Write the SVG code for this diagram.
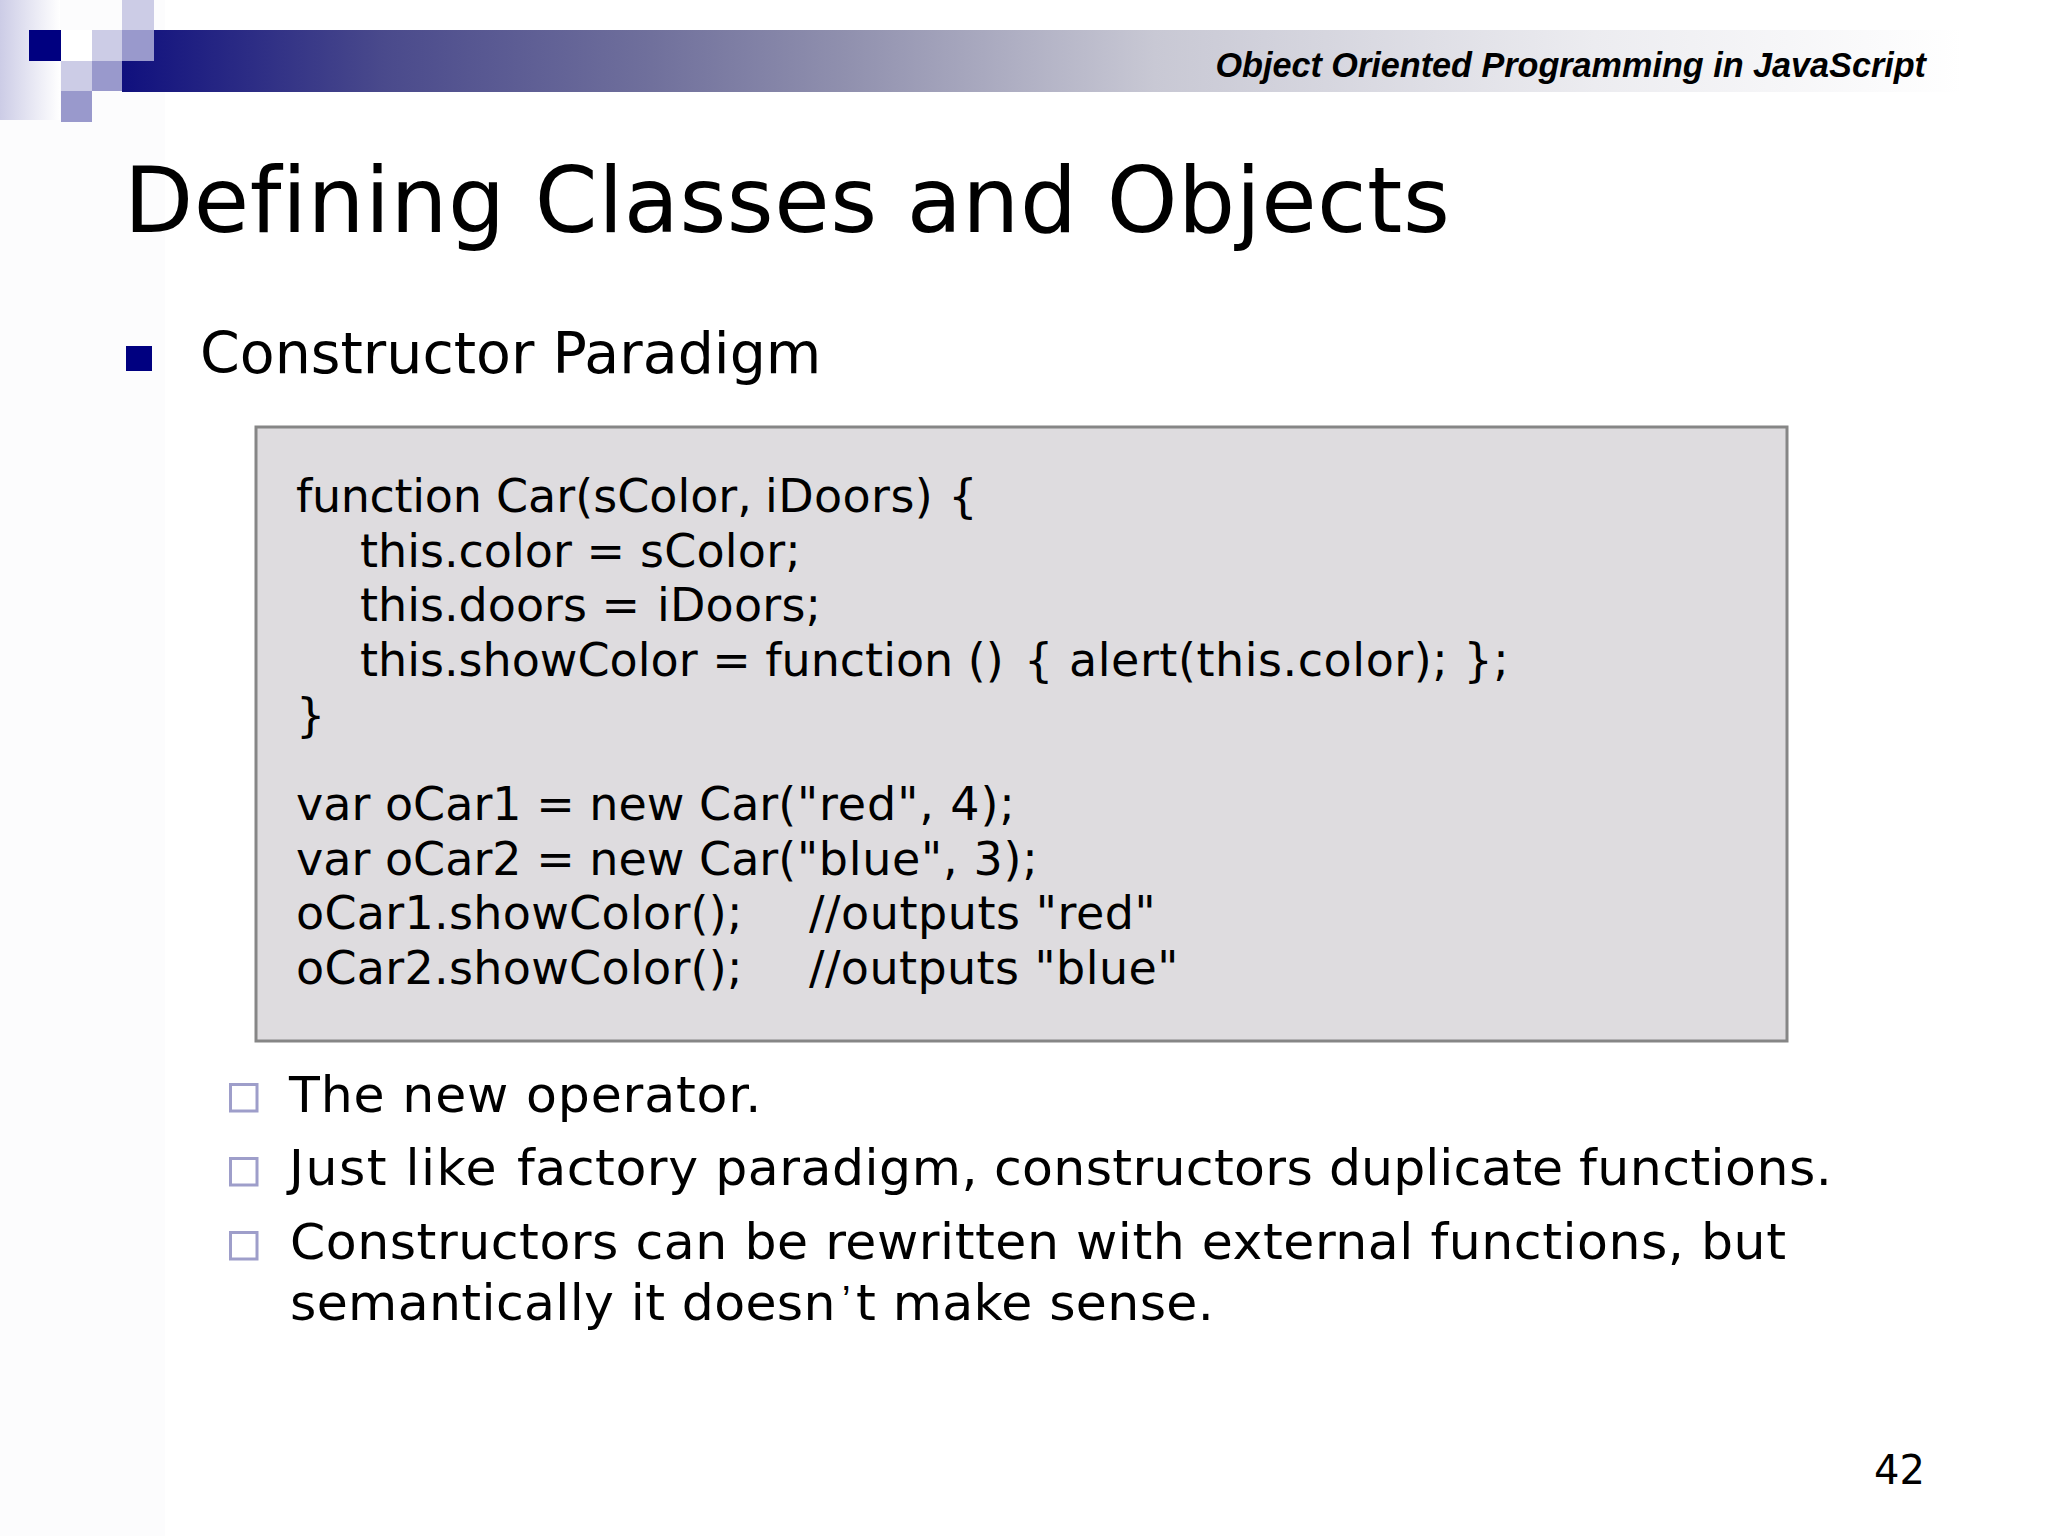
<svg xmlns="http://www.w3.org/2000/svg" width="2048" height="1536" viewBox="0 0 2048 1536">
<style>
text{font-family:"DejaVu Sans",Verdana,sans-serif;fill:#000;font-variant-ligatures:none}
.code{font-size:46px}
.sub{font-size:50.5px;letter-spacing:.53px}
.lt{fill:#cccce6}.md{fill:#9999cc}
.box{fill:none;stroke:#9e9eca;stroke-width:3}
.tick{font-family:"Liberation Sans",Arial,sans-serif;font-size:40px}
</style>
<defs>
<linearGradient id="bar" x1="0" x2="1" y1="0" y2="0"><stop offset="0" stop-color="#10107e"/><stop offset=".143" stop-color="#4a4a8c"/><stop offset=".288" stop-color="#70709c"/><stop offset=".393" stop-color="#9090ae"/><stop offset=".561" stop-color="#c8c8d4"/><stop offset=".8" stop-color="#ececf0"/><stop offset="1" stop-color="#ffffff"/></linearGradient>
<linearGradient id="side" x1="0" x2="1" y1="0" y2="0"><stop offset="0" stop-color="#cccce6"/><stop offset="1" stop-color="#ffffff"/></linearGradient>
</defs>
<rect width="2048" height="1536" fill="#ffffff"/>
<rect x="0" y="0" width="165" height="1536" fill="#fcfcfd"/>
<g id="header">
<rect x="122" y="30" width="1840" height="62" fill="url(#bar)"/>
<rect x="0" y="0" width="60" height="120" fill="url(#side)"/>
<rect x="29" y="30" width="32" height="31" fill="#000080"/>
<rect x="61" y="30" width="31" height="31" fill="#ffffff"/>
<rect x="92" y="30" width="30" height="31" class="lt"/>
<rect x="122" y="0" width="32" height="30" class="lt"/>
<rect x="122" y="30" width="32" height="31" class="md"/>
<rect x="61" y="61" width="31" height="30" class="lt"/>
<rect x="92" y="61" width="30" height="30" class="md"/>
<rect x="61" y="91" width="31" height="31" class="md"/>
<text x="1926" y="77" text-anchor="end" style="font-family:'Liberation Sans',Arial,sans-serif;font-size:34.2px;font-weight:700;font-style:italic">Object Oriented Programming in JavaScript</text>
</g>
<text id="title" x="124" y="232" font-size="90" letter-spacing=".52">Defining Classes and Objects</text>
<g id="bullet">
<rect x="126" y="346" width="26" height="25" fill="#000080"/>
<text x="200" y="373" font-size="57">Constructor Paradigm</text>
</g>
<g id="codebox">
<rect x="256" y="427" width="1531" height="614" fill="#dedcdf" stroke="#868686" stroke-width="3"/>
<text class="code" x="296" y="512"><tspan letter-spacing="-.3">function </tspan><tspan x="496">Car(sColor, </tspan><tspan x="765" letter-spacing=".4">iDoors) {</tspan></text>
<text class="code" x="360" y="567">this.color = <tspan x="640" letter-spacing=".2">sColor;</tspan></text>
<text class="code" x="360" y="621">this.doors = <tspan x="657" letter-spacing=".2">iDoors;</tspan></text>
<text class="code" x="360" y="676">this.showColor = function () <tspan x="1024" letter-spacing=".55">{ alert(this.color); };</tspan></text>
<text class="code" x="296" y="731">}</text>
<text class="code" x="296" y="820">var oCar1 = new Car(<tspan x="797" letter-spacing=".9">"red", 4);</tspan></text>
<text class="code" x="296" y="875">var oCar2 = new Car(<tspan x="797" letter-spacing=".7">"blue", 3);</tspan></text>
<text class="code" x="296" y="929" letter-spacing=".29">oCar1.showColor();</text>
<text class="code" x="809" y="929" letter-spacing=".55">//outputs "red"</text>
<text class="code" x="296" y="984" letter-spacing=".29">oCar2.showColor();</text>
<text class="code" x="809" y="984" letter-spacing=".42">//outputs "blue"</text>
</g>
<g id="subbullets">
<rect x="230.5" y="1084.5" width="26.5" height="26.5" class="box"/>
<rect x="230.5" y="1158.5" width="26.5" height="26.5" class="box"/>
<rect x="230.5" y="1232.5" width="26.5" height="26.5" class="box"/>
<text class="sub" x="289" y="1112" style="letter-spacing:.83px">The new operator.</text>
<text class="sub" x="289" y="1185"><tspan style="letter-spacing:1.5px">Just like </tspan><tspan x="517">factory paradigm, </tspan><tspan x="994" style="letter-spacing:.33px">constructors </tspan><tspan x="1329" style="letter-spacing:.05px">duplicate </tspan><tspan x="1579" style="letter-spacing:.45px">functions.</tspan></text>
<text class="sub" x="290" y="1259">Constructors can be rewritten with external functions, but</text>
<text class="sub" x="290" y="1320" style="letter-spacing:.36px">semantically it doesn<tspan class="tick" dy="-6" dx="6">’</tspan><tspan dy="6" dx="5">t make sense.</tspan></text>
</g>
<text id="page" x="1925" y="1484" text-anchor="end" font-size="40" fill="#111">42</text>
</svg>
